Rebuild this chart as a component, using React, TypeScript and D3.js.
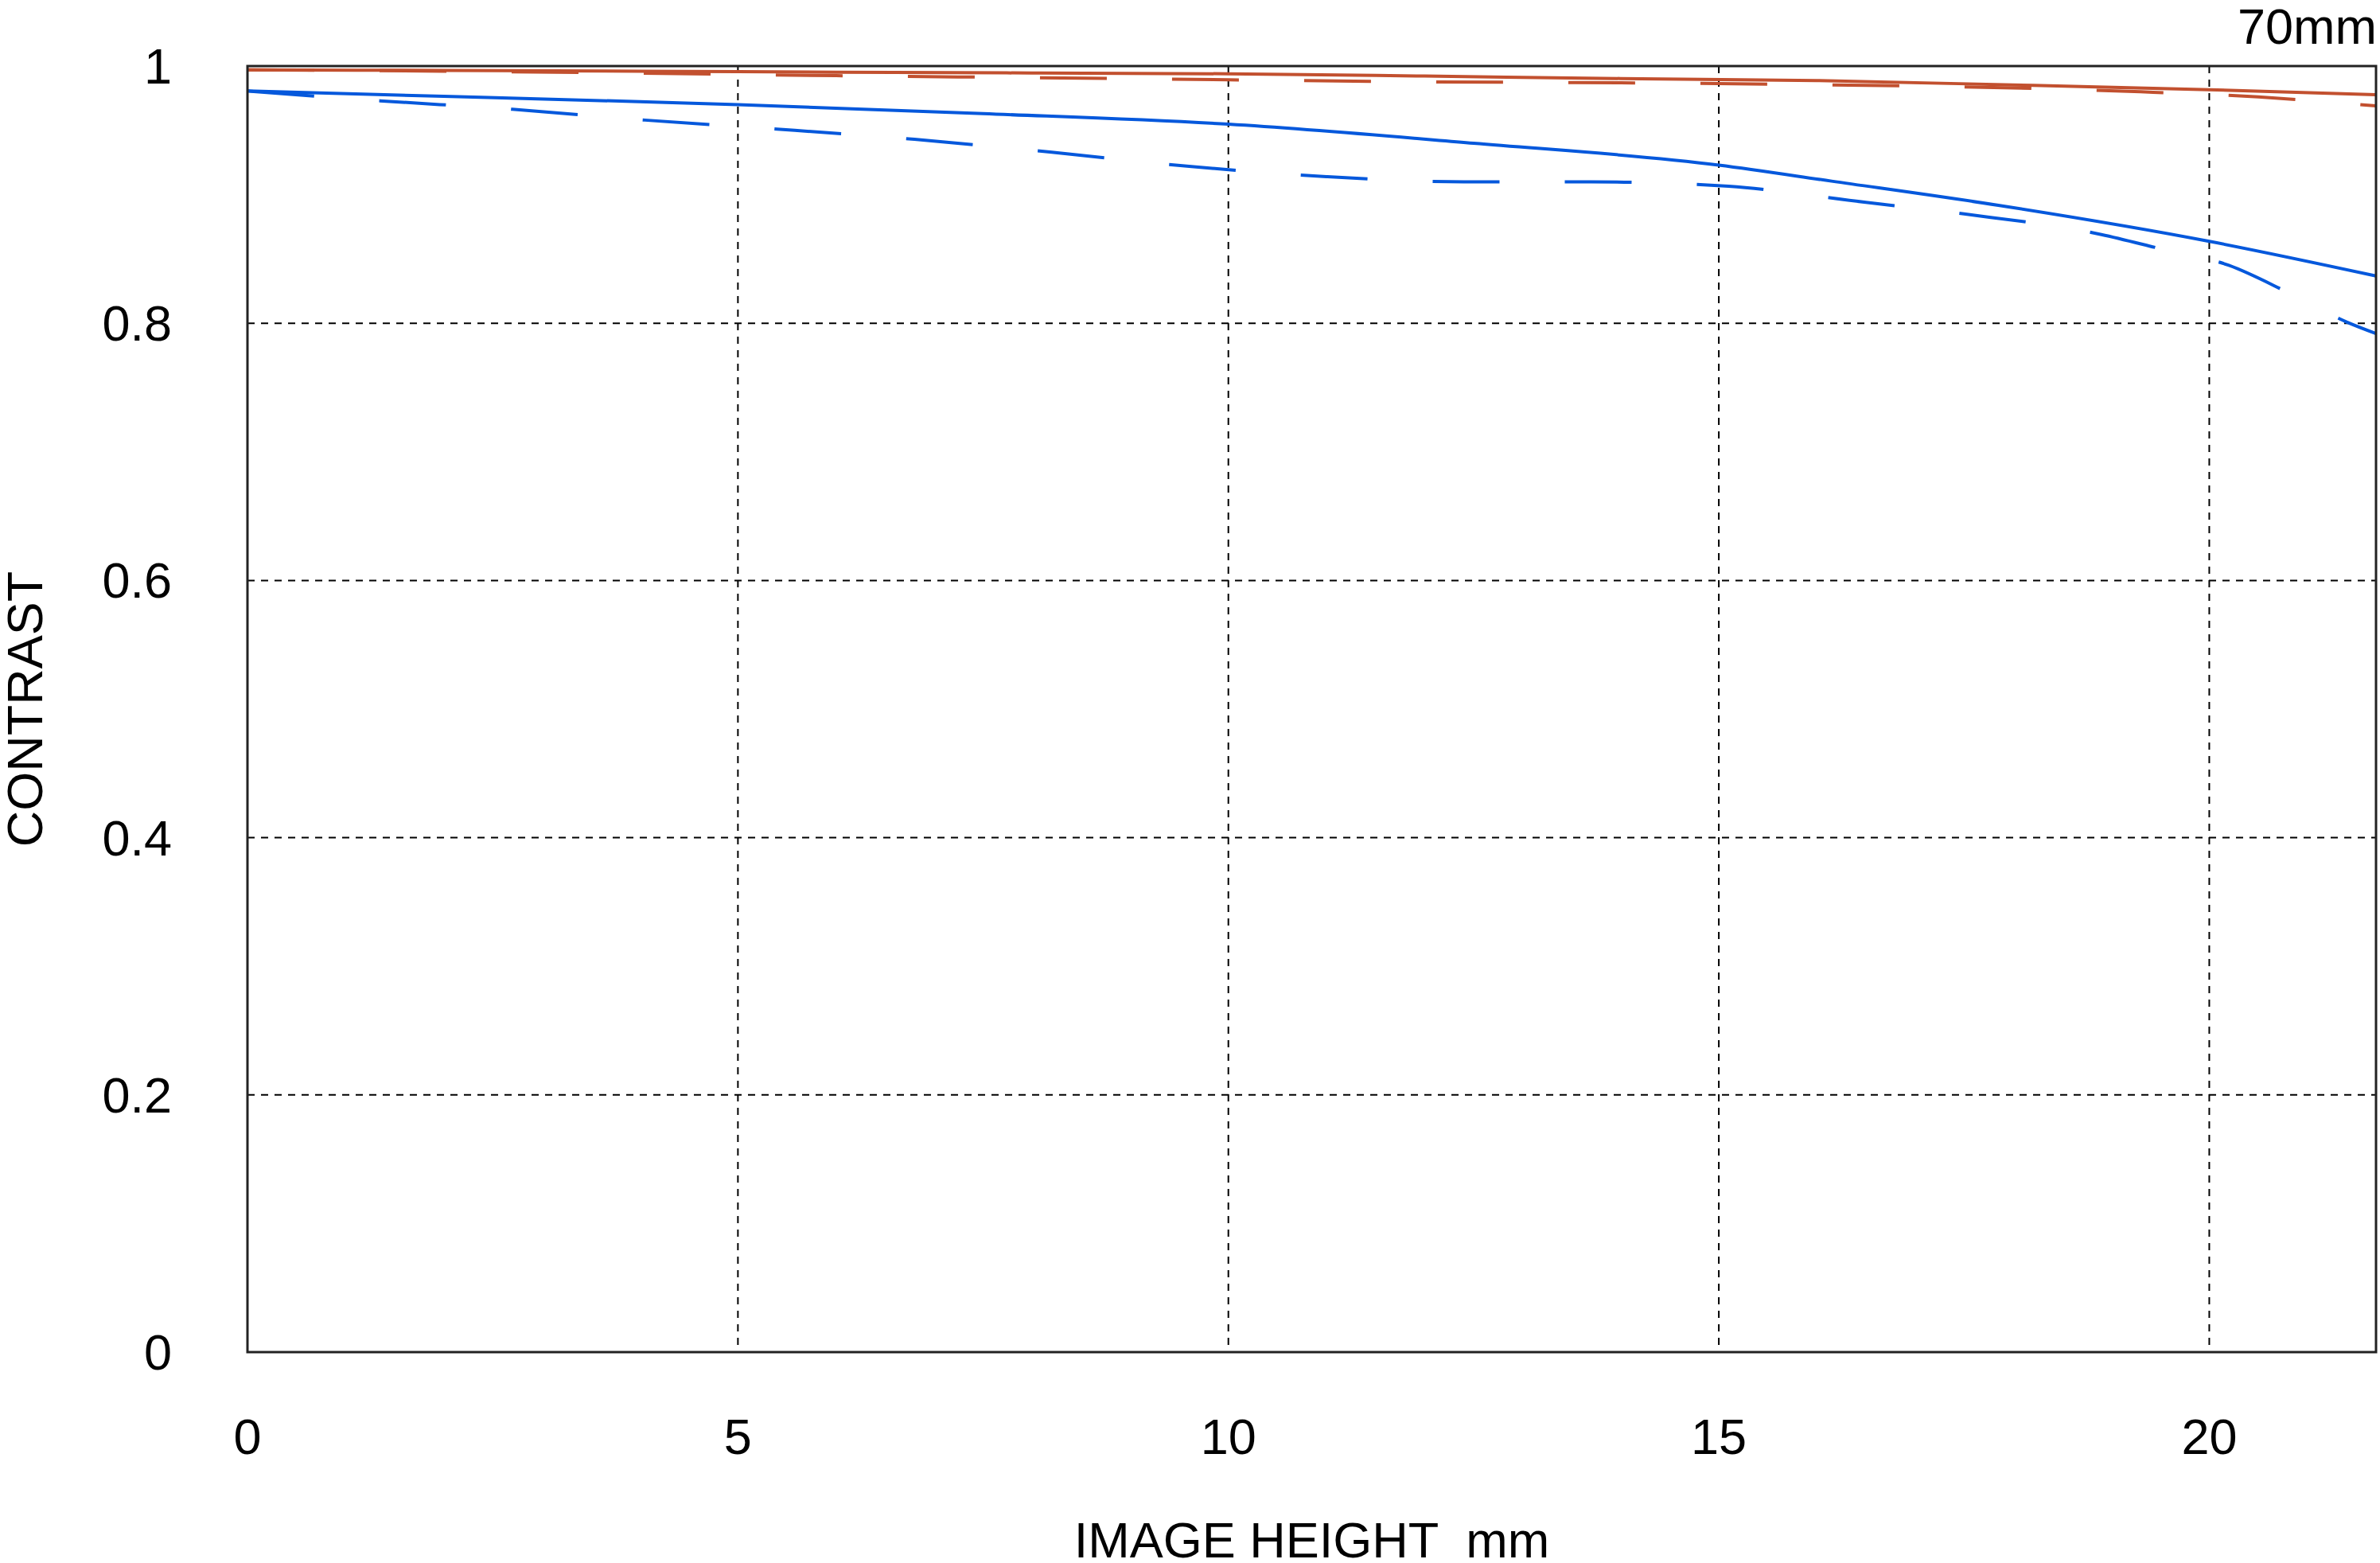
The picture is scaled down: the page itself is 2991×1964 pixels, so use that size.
import * as d3 from 'd3'
import {useRef, useEffect} from 'react'

// image height (mm) sample positions and contrast values
const redSolidX = [0, 2, 4, 6, 8, 10, 12, 14, 16, 18, 20, 21.7]
const redSolidY = [0.997, 0.9966, 0.996, 0.9952, 0.9946, 0.994, 0.9922, 0.9903, 0.9887, 0.9853, 0.9816, 0.9777]

const redDashX = [0, 2, 4, 6, 8, 10, 12, 14, 16, 18, 19.3, 20.5, 21.7]
const redDashY = [0.997, 0.996, 0.9945, 0.9925, 0.991, 0.9893, 0.9877, 0.987, 0.9855, 0.983, 0.98, 0.976, 0.969]

const blueSolidX = [0, 2, 4, 5, 7.5, 10, 12.5, 15, 16.15, 17.85, 20, 21.7]
const blueSolidY = [0.9806, 0.9765, 0.9723, 0.97, 0.963, 0.9548, 0.94, 0.923, 0.9105, 0.8917, 0.8637, 0.8368]

const blueDashX = [0, 1.35, 2.7, 4.05, 5.4, 6.8, 8.2, 9.6, 11, 12.4, 13.7, 15.1, 16.5, 17.5, 18.9, 19.5, 20.2, 20.8, 21.4, 21.7]
const blueDashY = [0.9806, 0.973, 0.9664, 0.958, 0.951, 0.943, 0.933, 0.922, 0.914, 0.91, 0.91, 0.9065, 0.894, 0.885, 0.869, 0.858, 0.845, 0.824, 0.801, 0.792]

const xTicks = [0, 5, 10, 15, 20]
const yTicks = [0, 0.2, 0.4, 0.6, 0.8, 1]
const yTickLabels = ['0', '0.2', '0.4', '0.6', '0.8', '1']

const RED = '#c2502f'
const BLUE = '#0558dc'

const App = () => {
  const svgRef = useRef(null)

  const svgWidth = 2991
  const svgHeight = 1964
  const margin = {left: 311, right: 5, top: 83, bottom: 265}

  useEffect(() => {
    const SVG = d3.select(svgRef.current)
    SVG.selectAll('*').remove()

    const xScale = d3.scaleLinear()
      .domain([0, 21.7])
      .range([margin.left, svgWidth - margin.right])
    const yScale = d3.scaleLinear()
      .domain([0, 1])
      .range([svgHeight - margin.bottom, margin.top])

    const font = '"Liberation Sans", Arial, sans-serif'

    // grid
    const grid = SVG.append('g')
    grid.selectAll('line.v')
      .data(xTicks.filter(d => d > 0))
      .enter()
      .append('line')
      .attr('x1', d => xScale(d))
      .attr('x2', d => xScale(d))
      .attr('y1', yScale(1))
      .attr('y2', yScale(0))
      .attr('stroke', '#000')
      .attr('stroke-width', 2)
      .attr('stroke-dasharray', '9,8')
    grid.selectAll('line.h')
      .data(yTicks.filter(d => d > 0 && d < 1))
      .enter()
      .append('line')
      .attr('x1', xScale(0))
      .attr('x2', xScale(21.7))
      .attr('y1', d => yScale(d))
      .attr('y2', d => yScale(d))
      .attr('stroke', '#000')
      .attr('stroke-width', 2)
      .attr('stroke-dasharray', '9,8')

    // curves
    const line = d3.line<[number, number]>()
      .x(d => xScale(d[0]))
      .y(d => yScale(d[1]))
      .curve(d3.curveMonotoneX)

    const series = [
      {xs: redSolidX, ys: redSolidY, color: RED, dash: null},
      {xs: redDashX, ys: redDashY, color: RED, dash: '84,82'},
      {xs: blueSolidX, ys: blueSolidY, color: BLUE, dash: null},
      {xs: blueDashX, ys: blueDashY, color: BLUE, dash: '84,82'},
    ]
    series.forEach(s => {
      const pts: [number, number][] = s.xs.map((x, i) => [x, s.ys[i]])
      SVG.append('path')
        .attr('d', line(pts))
        .attr('fill', 'none')
        .attr('stroke', s.color)
        .attr('stroke-width', 4)
        .attr('stroke-dasharray', s.dash)
    })

    // frame
    SVG.append('rect')
      .attr('x', xScale(0))
      .attr('y', yScale(1))
      .attr('width', xScale(21.7) - xScale(0))
      .attr('height', yScale(0) - yScale(1))
      .attr('fill', 'none')
      .attr('stroke', '#222')
      .attr('stroke-width', 3)

    // tick labels
    SVG.append('g')
      .selectAll('text')
      .data(yTicks)
      .enter()
      .append('text')
      .attr('x', 216)
      .attr('y', d => yScale(d) + 22)
      .attr('text-anchor', 'end')
      .attr('font-family', font)
      .attr('font-size', 63)
      .text((d, i) => yTickLabels[i])

    SVG.append('g')
      .selectAll('text')
      .data(xTicks)
      .enter()
      .append('text')
      .attr('x', d => xScale(d))
      .attr('y', 1827)
      .attr('text-anchor', 'middle')
      .attr('font-family', font)
      .attr('font-size', 63)
      .text(d => String(d))

    SVG.append('text')
      .attr('x', (xScale(0) + xScale(21.7)) / 2)
      .attr('y', 1957)
      .attr('text-anchor', 'middle')
      .attr('font-family', font)
      .attr('font-size', 63)
      .attr('xml:space', 'preserve')
      .style('white-space', 'pre')
      .text('IMAGE HEIGHT  mm')

    SVG.append('text')
      .attr('transform', `translate(53,${(yScale(0) + yScale(1)) / 2}) rotate(-90)`)
      .attr('text-anchor', 'middle')
      .attr('font-family', font)
      .attr('font-size', 63)
      .text('CONTRAST')

    SVG.append('text')
      .attr('x', 2987)
      .attr('y', 55)
      .attr('text-anchor', 'end')
      .attr('font-family', font)
      .attr('font-size', 63)
      .text('70mm')
  }, [])

  return (
    <svg
      ref={svgRef}
      width={svgWidth}
      height={svgHeight}
      style={{position: 'absolute', left: 0, top: 0, background: '#fff'}}
    ></svg>
  )
}

export default App
